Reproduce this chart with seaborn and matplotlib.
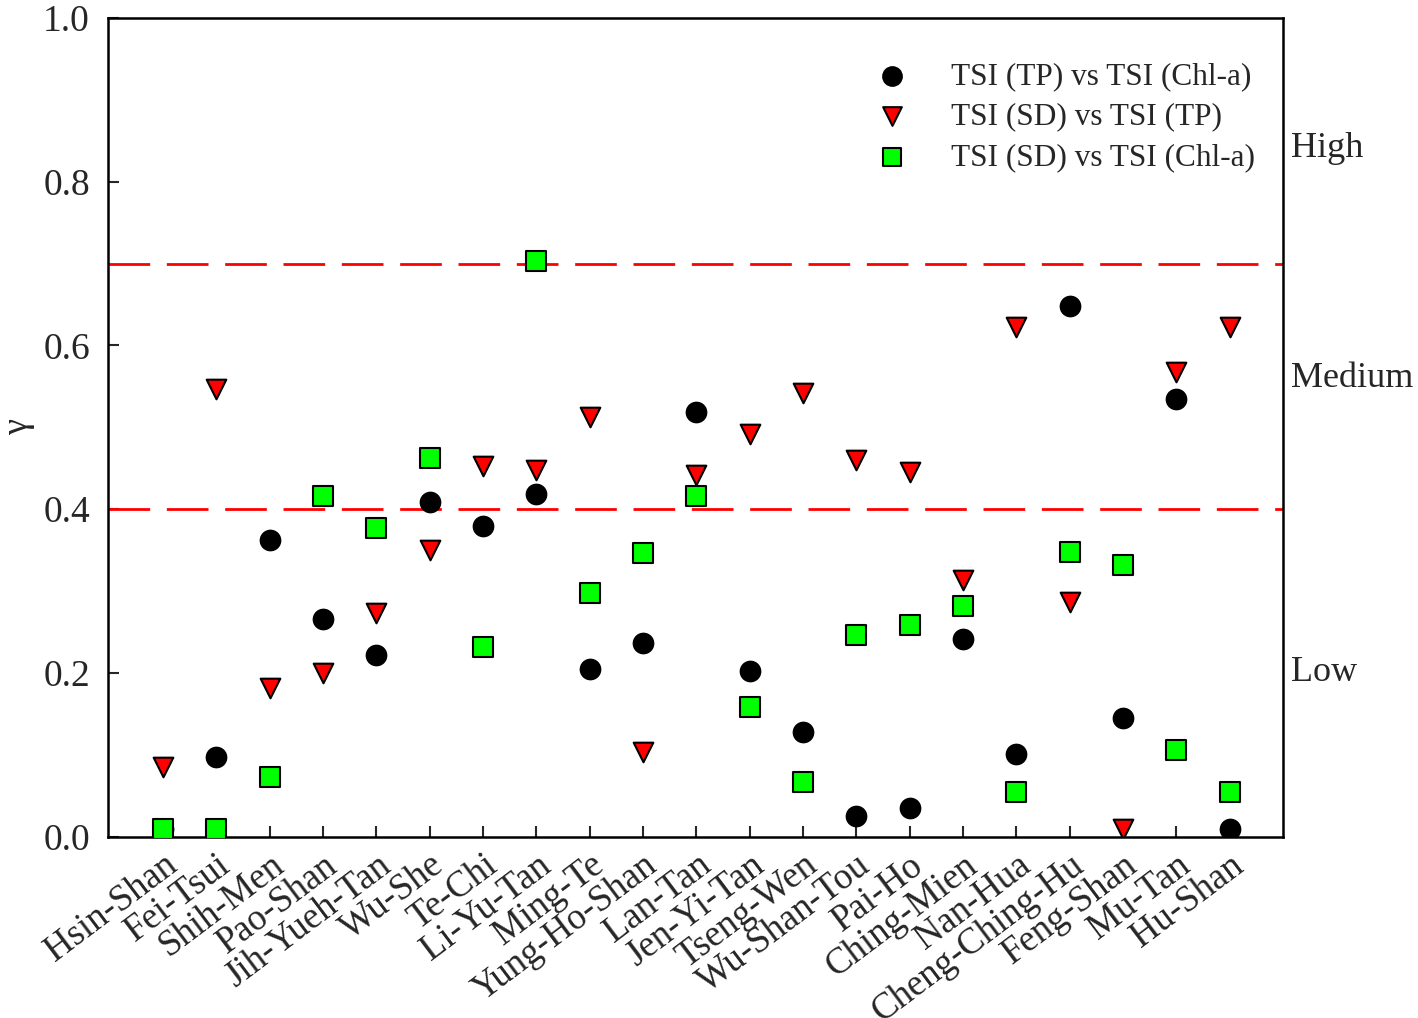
import numpy as np
import pandas as pd
import seaborn as sns
import matplotlib.pyplot as plt

lakes = ["Hsin-Shan", "Fei-Tsui", "Shih-Men", "Pao-Shan", "Jih-Yueh-Tan", "Wu-She",
         "Te-Chi", "Li-Yu-Tan", "Ming-Te", "Yung-Ho-Shan", "Lan-Tan", "Jen-Yi-Tan",
         "Tseng-Wen", "Wu-Shan-Tou", "Pai-Ho", "Ching-Mien", "Nan-Hua",
         "Cheng-Ching-Hu", "Feng-Shan", "Mu-Tan", "Hu-Shan"]

tp_chla = [0.010, 0.098, 0.363, 0.266, 0.222, 0.409, 0.379, 0.419, 0.205, 0.237, 0.519,
           0.203, 0.128, 0.026, 0.035, 0.242, 0.101, 0.648, 0.145, 0.534, 0.010]
sd_tp = [0.085, 0.547, 0.182, 0.200, 0.273, 0.350, 0.453, 0.448, 0.512, 0.103, 0.442,
         0.492, 0.542, 0.460, 0.446, 0.314, 0.623, 0.287, 0.009, 0.567, 0.623]
sd_chla = [0.010, 0.010, 0.073, 0.416, 0.377, 0.462, 0.232, 0.703, 0.298, 0.346, 0.416,
           0.158, 0.067, 0.247, 0.259, 0.282, 0.055, 0.348, 0.332, 0.106, 0.055]

series_names = ["TSI (TP) vs TSI (Chl-a)", "TSI (SD) vs TSI (TP)", "TSI (SD) vs TSI (Chl-a)"]
thresholds = [0.4, 0.7]
levels = ["High", "Medium", "Low"]
level_y = [0.84, 0.56, 0.20]

sns.set_style("white")
plt.rcParams['font.family'] = ['Liberation Serif', 'DejaVu Serif']

fig = plt.figure(figsize=(14.18, 10.18), dpi=100)
ax = fig.add_axes([0.0762, 0.178, 0.8286, 0.8045])

x = np.arange(len(lakes))
df = pd.DataFrame({"x": x, "a": tp_chla, "b": sd_tp, "c": sd_chla})

styles = [("a", "o", "black"), ("b", "v", "#ff0000"), ("c", "s", "#00ff00")]
for (col, mk, colr), name in zip(styles, series_names):
    sns.scatterplot(data=df, x="x", y=col, marker=mk, color=colr, edgecolor="black",
                    linewidth=1.5, s=200, label=name, ax=ax, zorder=3)

for t in thresholds:
    ax.axhline(t, color="#ff0000", lw=2, dashes=(15, 6), zorder=1)

ax.set_xlim(-1.03, 21.0)
ax.set_ylim(0, 1.0)
ax.set_xticks(x)
ax.set_xticklabels(lakes, rotation=37, ha="right", rotation_mode="anchor", fontsize=26.5)
ax.set_yticks([0, 0.2, 0.4, 0.6, 0.8, 1.0])
ax.set_yticklabels(["0.0", "0.2", "0.4", "0.6", "0.8", "1.0"], fontsize=27)
ax.tick_params(axis="both", direction="in", length=8, width=1.5, bottom=True, left=True, pad=8)
ax.tick_params(axis="y", pad=13)
ax.set_xlabel("")
ax.set_ylabel("γ", fontsize=26)
ax.yaxis.set_label_coords(-0.062, 0.5)
for sp in ax.spines.values():
    sp.set_linewidth(1.8)
    sp.set_color("black")

for lab, yy in zip(levels, level_y):
    ax.text(1.007, yy, lab, transform=ax.transAxes, fontsize=26, va="center", ha="left")

ax.legend(loc="upper right", bbox_to_anchor=(1.0, 0.98), frameon=False, fontsize=22.5,
          handletextpad=0.9, labelspacing=0.36, markerscale=0.95)

fig.savefig("out.png", dpi=100)
